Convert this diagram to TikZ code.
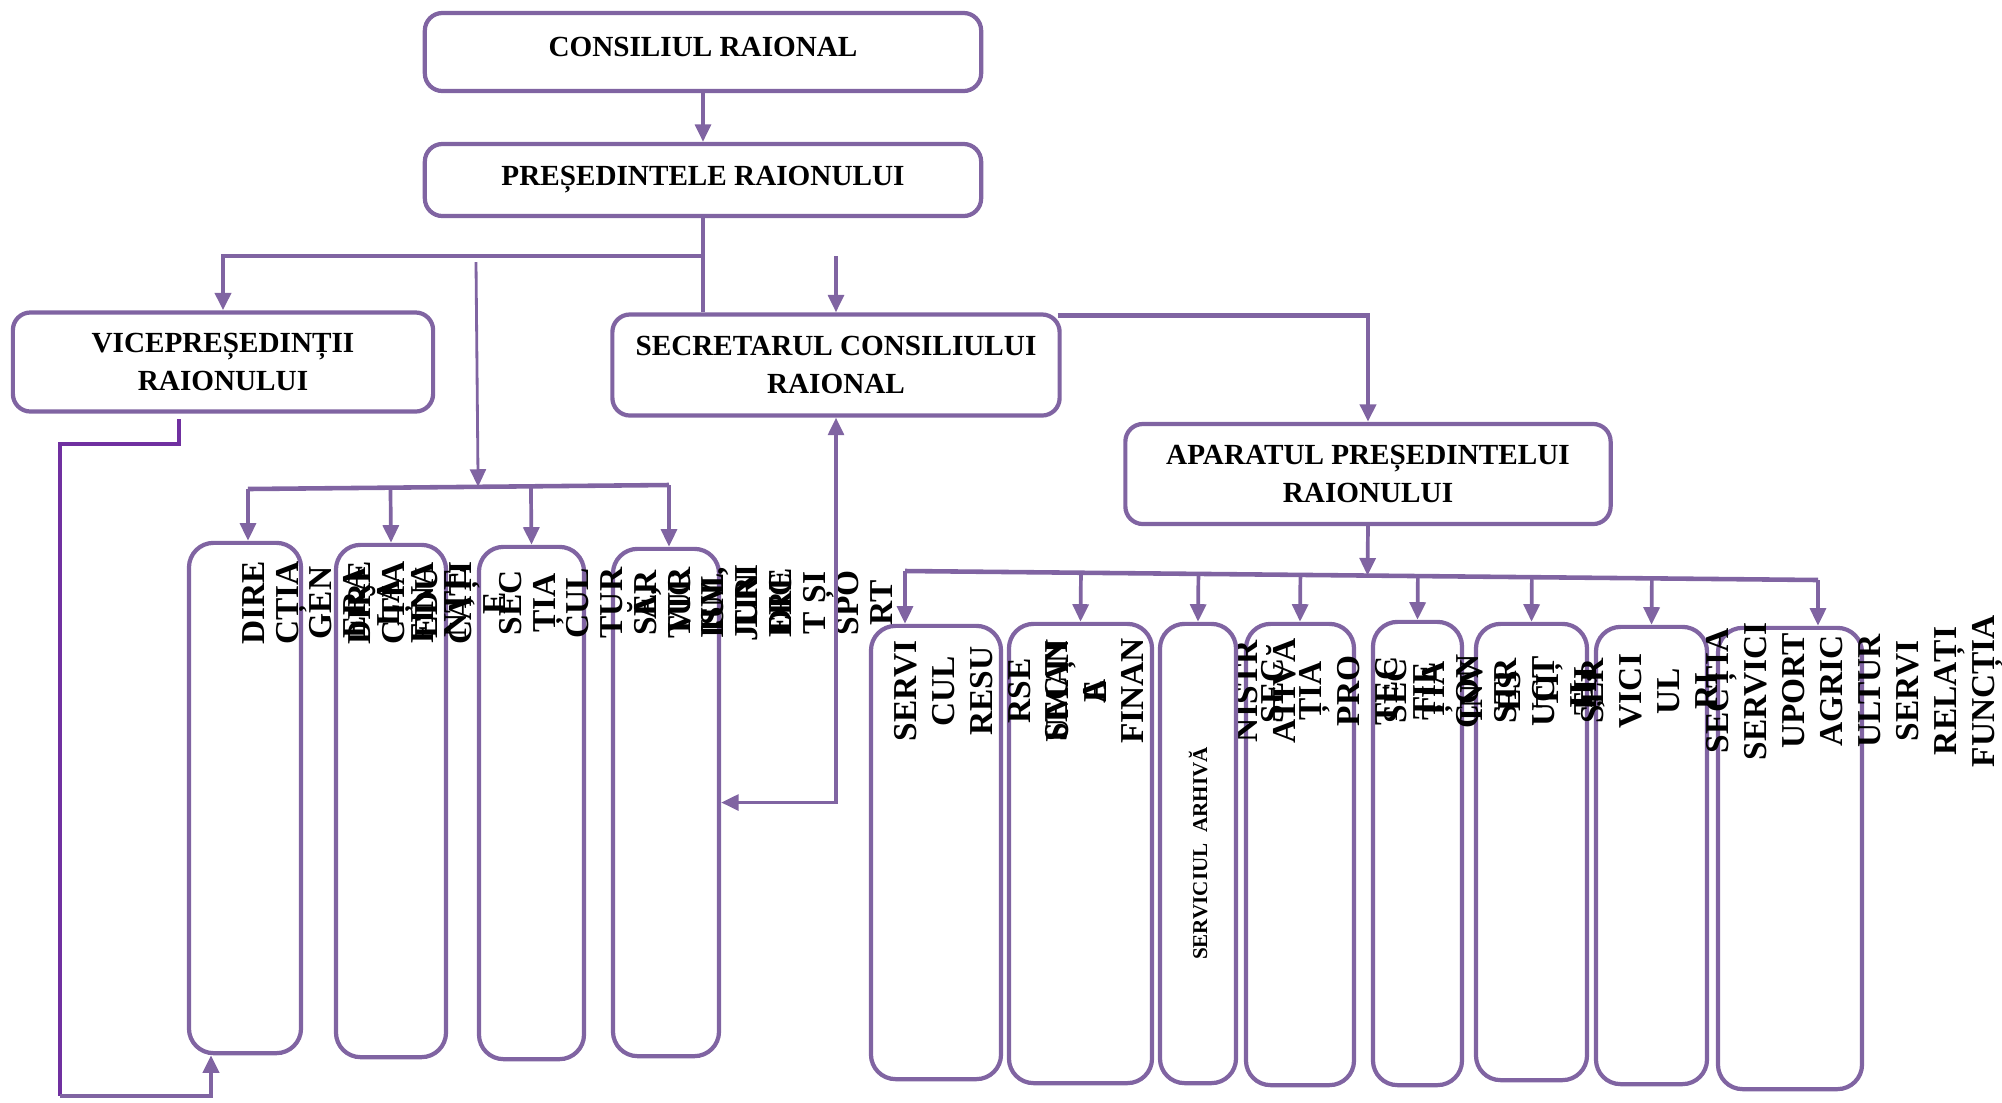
\documentclass[tikz,border=0pt]{standalone}
\usepackage{fontspec}
\setmainfont{Liberation Serif}
\usetikzlibrary{calc,arrows.meta}
\definecolor{boxc}{HTML}{8064A2}
\definecolor{vdark}{HTML}{7030A0}
\tikzset{
  topbox/.style={draw=boxc, line width=1.2pt, rounded corners=5pt, fill=white, inner sep=0pt, align=center, font=\fontsize{8.3}{10.8}\selectfont\bfseries},
  unitbox/.style={draw=boxc, line width=1.2pt, rounded corners=7pt, fill=white, inner sep=0pt},
  link/.style={draw=boxc, line width=1.05pt},
  arr/.style={link, -{Triangle[length=5pt,width=4.5pt]}},
  vlink/.style={draw=vdark, line width=1.1pt},
  vtxt/.style={rotate=90, align=center, inner sep=0pt},
  vleft/.style={vtxt, font=\fontsize{9.5}{9.6}\selectfont\bfseries},
  vright/.style={vtxt, font=\fontsize{9.5}{10.8}\selectfont\bfseries},
}

\begin{document}
\begin{tikzpicture}[x=0.01cm, y=-0.01cm]
  \useasboundingbox (0,0) rectangle (2002,1102);
  % upper levels
  \node[topbox, minimum width=5.56cm, minimum height=0.78cm, text height=0.2cm, text depth=0.12cm] (consiliu) at (703,52) {CONSILIUL RAIONAL};
  \node[topbox, minimum width=5.56cm, minimum height=0.72cm] (presed) at (703,180) {PREȘEDINTELE RAIONULUI};
  \node[topbox, minimum width=4.20cm, minimum height=0.99cm] (vice) at (223,362) {VICEPREȘEDINȚII\\RAIONULUI};
  \node[topbox, minimum width=4.47cm, minimum height=1.01cm] (secretar) at (836,365) {SECRETARUL CONSILIULUI\\RAIONAL};
  \node[topbox, minimum width=4.85cm, minimum height=1.00cm] (aparat) at (1368,474) {APARATUL PREȘEDINTELUI\\RAIONULUI};

  % left units
  \node[unitbox, minimum width=1.12cm, minimum height=5.10cm] (dirgen) at (245,798) {};
  \node[unitbox, minimum width=1.10cm, minimum height=5.12cm] (dired) at (391,801) {};
  \node[unitbox, minimum width=1.05cm, minimum height=5.12cm] (seccult) at (531.5,803) {};
  \node[unitbox, minimum width=1.06cm, minimum height=5.07cm] (serjur) at (666,802.5) {};

  % units of the aparat
  \node[unitbox, minimum width=1.30cm, minimum height=4.53cm] (srh) at (936,852.5) {};
  \node[unitbox, minimum width=1.43cm, minimum height=4.59cm] (sfin) at (1080.5,853.5) {};
  \node[unitbox, minimum width=1.08cm, minimum height=4.61cm] (sprot) at (1300,854.5) {};
  \node[unitbox, minimum width=0.89cm, minimum height=4.63cm] (sinv) at (1417.5,853.5) {};
  \node[unitbox, minimum width=1.11cm, minimum height=4.56cm] (scon) at (1531.5,852) {};
  \node[unitbox, minimum width=1.11cm, minimum height=4.57cm] (sserv) at (1651.5,855.5) {};
  \node[unitbox, minimum width=1.44cm, minimum height=4.61cm] (sagr) at (1790,858.5) {};

  % vertical texts
  \node[vleft] (dirgentxt) at (359,603) {DIRE\\CȚIA\\GEN\\ERA\\LĂ\\FINA\\NȚE};
  \node[vleft] (diredtxt) at (427,603) {DIRE\\CȚIA\\EDU\\CAȚI\\E};
  \node[vleft] (seccultxt) at (696,603) {SEC\\ȚIA\\CUL\\TUR\\Ă,\\TUR\\ISM,\\TIN\\ERE\\T ȘI\\SPO\\RT};
  \node[vleft] (serjurtxt) at (713,603) {SER\\VIC\\IUL\\JURI\\DIC};
  \node[vright] (srhtxt) at (1000,691) {SERVI\\CUL\\RESU\\RSE\\UMAN\\E};
  \node[vright] (sfintxt) at (1171,691) {SECȚI\\A\\FINAN\\ȚE\\ADMI\\NISTR\\ATIVĂ};
  \node[vright] (sprottxt) at (1353,691) {SEC\\ȚIA\\PRO\\TEC\\ȚIE};
  \node[vright] (sinvtxt) at (1495,691) {SEC\\ȚIA\\INV\\ES\\TI\\ȚII};
  \node[vright] (scontxt) at (1527,691) {CON\\STR\\UCȚ\\II,};
  \node[vright] (sservtxt) at (1649,691) {SER\\VICI\\UL\\RI};
  \node[vright] (sagrtxt) at (1855,691) {SECȚIA\\SERVICI\\UPORT\\AGRIC\\ULTUR\\SERVI\\RELAȚI\\FUNCȚIA};

  % archive box on top
  \node[unitbox, minimum width=0.76cm, minimum height=4.59cm] (sarh) at (1198,853.5) {};
  \node[rotate=90, inner sep=0pt, font=\fontsize{6}{7}\selectfont\bfseries] (sarhtxt) at (sarh) {SERVICIUL\ \ ARHIVĂ};

  % connectors
  \coordinate (hbar) at (703,256);
  \coordinate (lstart) at (476,262);
  \coordinate (sstart) at (836,256);
  \coordinate (lbarL) at (248,489);
  \coordinate (lbarR) at (669,485);
  \coordinate (rbarL) at (905,571);
  \coordinate (rbarR) at (1818,580);
  \coordinate (vout) at (179,419);
  \coordinate (vturn) at (60,1096);

  \draw[arr] (consiliu) -- (presed);
  \draw[arr, line width=1.3pt] (presed.south) -- (hbar) -| (vice.north);
  \draw[link] (hbar) -- (hbar |- secretar.north);
  \draw[arr] (sstart) -- (secretar.north);
  \draw[arr, line width=1.3pt] ($(secretar.north east)+(-4,3)$) -| (aparat.north);
  \draw[arr, line width=0.8pt] (lstart) -- ($(lbarL)!(lstart)!(lbarR)$);
  \draw[link, line width=1.3pt] (lbarL) -- (lbarR);
  \draw[arr] (lbarL) -- (lbarL |- dirgen.north);
  \draw[arr] (lbarR) -- (lbarR |- serjur.north);
  \foreach \n in {dired,seccult}
    \draw[arr] ($(lbarL)!(\n.north)!(lbarR)$) -- (\n.north);
  \draw[link, {Triangle[length=5pt,width=4.5pt]}-{Triangle[length=5pt,width=4.5pt]}] (secretar.south) |- (serjur.east);
  \draw[arr] (aparat.south) -- ($(rbarL)!(aparat.south)!(rbarR)$);
  \draw[link, line width=1.3pt] (rbarL) -- (rbarR);
  \draw[arr] (rbarL) -- (rbarL |- srh.north);
  \draw[arr] (rbarR) -- (rbarR |- sagr.north);
  \foreach \n in {sfin,sarh,sprot,sinv,scon,sserv}
    \draw[arr] ($(rbarL)!(\n.north)!(rbarR)$) -- (\n.north);
  \draw[vlink] (vout) |- (60,444) -- (vturn);
  \draw[arr, line width=1.2pt] (vturn) -| ($(dirgen.south)+(-34,0)$);
\end{tikzpicture}
\end{document}
